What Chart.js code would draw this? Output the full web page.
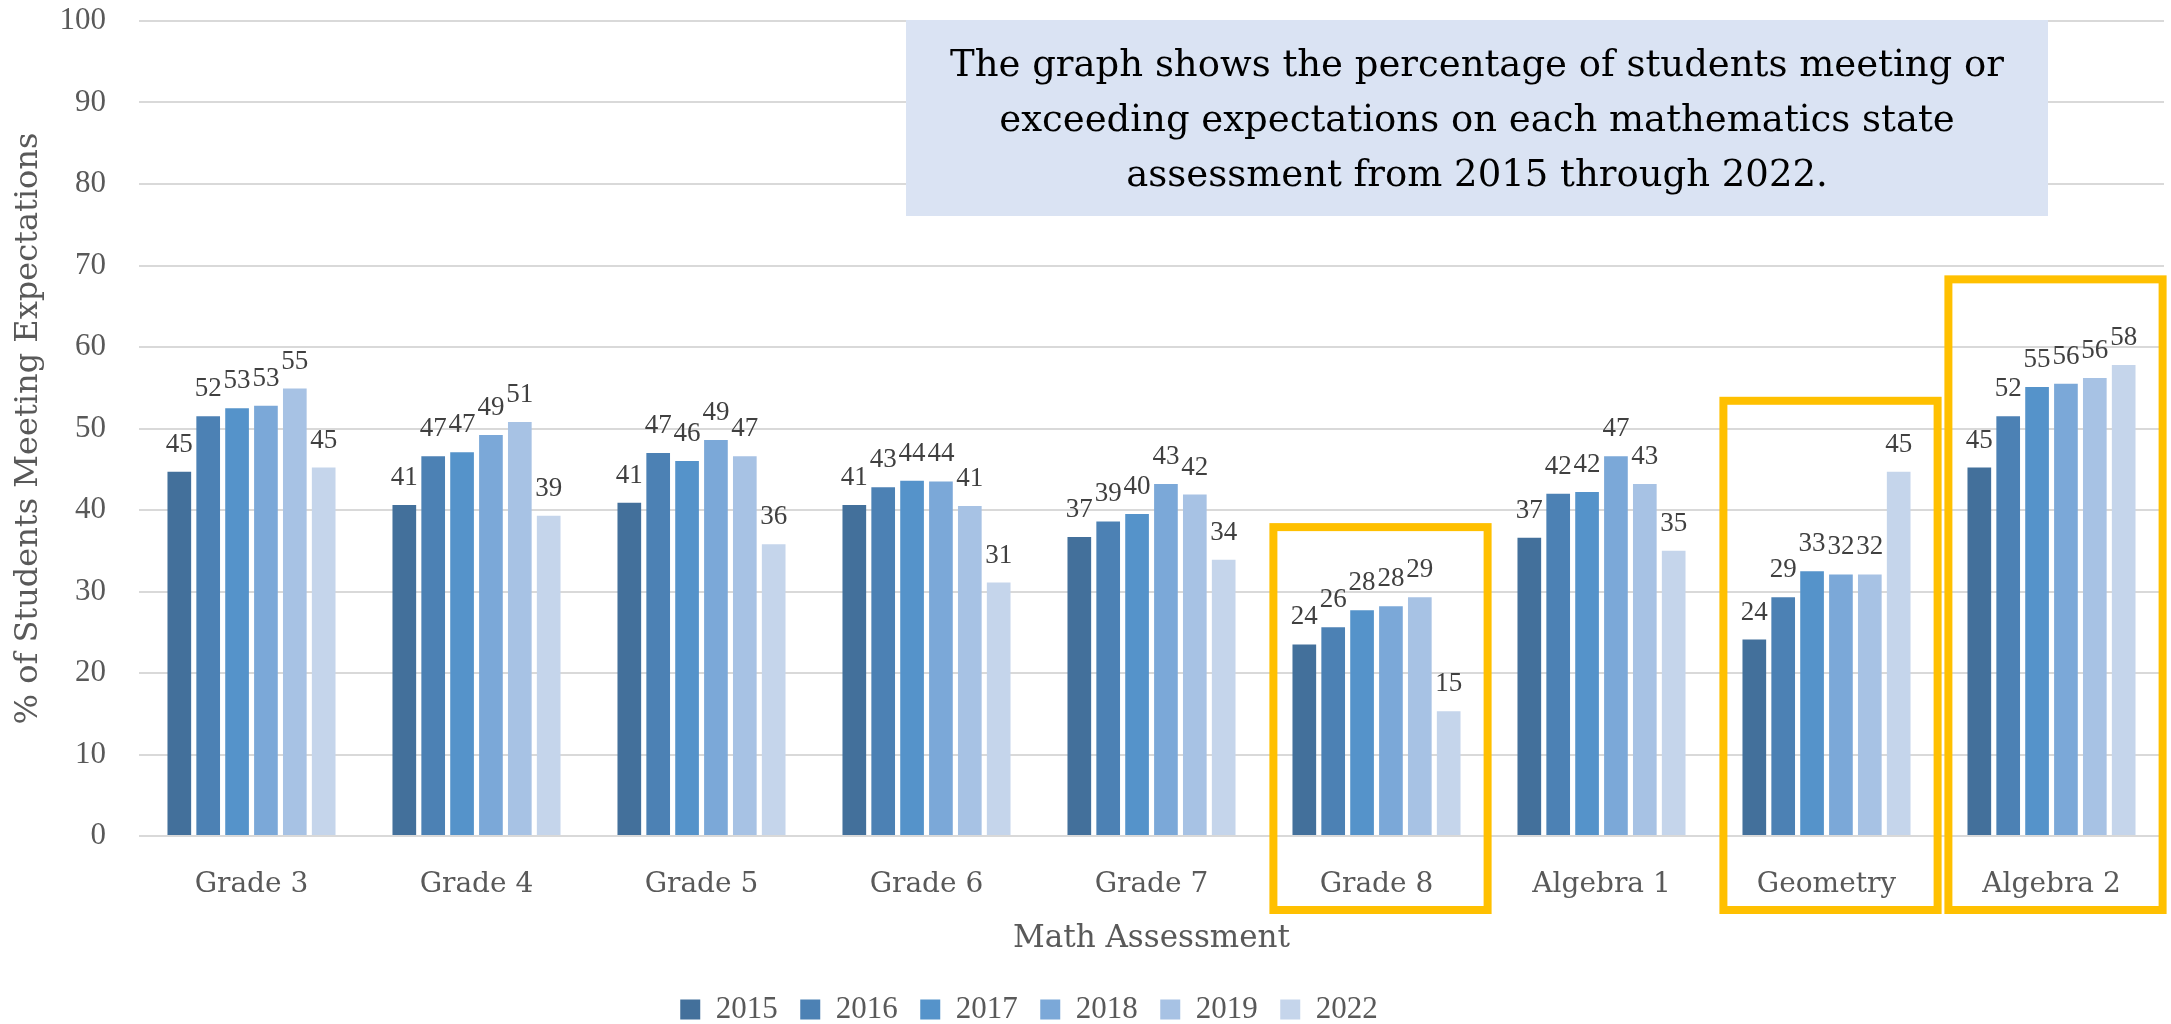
<!DOCTYPE html>
<html>
<head>
<meta charset="utf-8">
<script src="https://cdn.jsdelivr.net/npm/chart.js@4.4.1/dist/chart.umd.min.js"></script>
<style>
  html, body { margin: 0; padding: 0; background: #fff; }
  canvas { display: block; }
</style>
</head>
<body>
<canvas id="myChart" width="2171" height="1024"></canvas>
<script>
const assessments = ["Grade 3", "Grade 4", "Grade 5", "Grade 6", "Grade 7", "Grade 8", "Algebra 1", "Geometry", "Algebra 2"];
const years = ["2015", "2016", "2017", "2018", "2019", "2022"];

const values2015 = [44.7, 40.6, 40.9, 40.6, 36.7, 23.5, 36.6, 24.1, 45.2];
const values2016 = [51.5, 46.6, 47.0, 42.8, 38.6, 25.6, 42.0, 29.3, 51.5];
const values2017 = [52.5, 47.1, 46.0, 43.6, 39.5, 27.7, 42.2, 32.5, 55.1];
const values2018 = [52.8, 49.2, 48.6, 43.5, 43.2, 28.2, 46.6, 32.1, 55.5];
const values2019 = [54.9, 50.8, 46.6, 40.5, 41.9, 29.3, 43.2, 32.1, 56.2];
const values2022 = [45.2, 39.3, 35.8, 31.1, 33.9, 15.3, 35.0, 44.7, 57.8];

const yearColors = ["#43709B", "#4C81B4", "#5593CA", "#7BA8D8", "#A7C2E4", "#C5D5EB"];

// assessments boxed in yellow, and the value the box top sits at
const highlighted = ["Grade 8", "Geometry", "Algebra 2"];
const highlightTops = [37.9, 53.4, 68.3];

const noteLines = [
  "The graph shows the percentage of students meeting or",
  "exceeding expectations on each mathematics state",
  "assessment from 2015 through 2022."
];

const serif = "'DejaVu Serif', serif";
const numFont = "'Liberation Serif', serif";

const series = [values2015, values2016, values2017, values2018, values2019, values2022];

// value labels above every bar
const barLabels = {
  id: "barLabels",
  afterDatasetsDraw(chart) {
    const ctx = chart.ctx;
    ctx.save();
    ctx.font = "27px " + numFont;
    ctx.fillStyle = "#404040";
    ctx.textAlign = "center";
    ctx.textBaseline = "alphabetic";
    chart.data.datasets.forEach((ds, i) => {
      chart.getDatasetMeta(i).data.forEach((bar, j) => {
        ctx.fillText(Math.round(ds.data[j]), bar.x, bar.y - 20);
      });
    });
    ctx.restore();
  }
};

// blue note box in the top right
const noteBox = {
  id: "noteBox",
  afterDatasetsDraw(chart) {
    const ctx = chart.ctx;
    const x = 906, y = 20, w = 1142, h = 196;
    ctx.save();
    ctx.fillStyle = "#DAE3F3";
    ctx.fillRect(x, y, w, h);
    ctx.fillStyle = "#000";
    ctx.font = "37px " + serif;
    ctx.textAlign = "center";
    ctx.textBaseline = "middle";
    noteLines.forEach((line, i) => ctx.fillText(line, x + w / 2, 66 + i * 55));
    ctx.restore();
  }
};

// yellow frames round some categories
const frames = {
  id: "frames",
  afterDraw(chart) {
    const ctx = chart.ctx;
    const xs = chart.scales.x, ys = chart.scales.y;
    const cw = xs.width / assessments.length;
    ctx.save();
    ctx.strokeStyle = "#FFC000";
    ctx.lineWidth = 8;
    highlighted.forEach((name, i) => {
      const cx = xs.getPixelForValue(assessments.indexOf(name)) + 4;
      const top = ys.getPixelForValue(highlightTops[i]);
      const bottom = chart.chartArea.bottom + 74;
      ctx.strokeRect(cx - cw * 0.476, top, cw * 0.952, bottom - top);
    });
    ctx.restore();
  }
};

const legendShift = {
  id: "legendShift",
  afterLayout(chart) {
    const l = chart.legend;
    l.left -= 53; l.right -= 53;
    l.top += 11; l.bottom += 11;
  }
};

new Chart(document.getElementById("myChart").getContext("2d"), {
  type: "bar",
  data: {
    labels: assessments,
    datasets: years.map((yr, i) => ({
      label: yr,
      data: series[i],
      backgroundColor: yearColors[i],
      borderWidth: 0,
      categoryPercentage: 0.77,
      barPercentage: 0.82
    }))
  },
  options: {
    responsive: false,
    animation: false,
    layout: { padding: { left: 0, right: 7, top: 21, bottom: 0 } },
    plugins: {
      legend: {
        position: "bottom",
        labels: {
          boxWidth: 20,
          boxHeight: 20,
          padding: 22.5,
          color: "#595959",
          font: { family: numFont, size: 31 }
        }
      },
      tooltip: { enabled: false }
    },
    scales: {
      x: {
        grid: { display: false },
        border: { display: false },
        ticks: { color: "#595959", padding: 24, font: { family: serif, size: 28 } },
        title: {
          display: true,
          text: "Math Assessment",
          color: "#595959",
          font: { family: serif, size: 31 },
          padding: { top: 0, bottom: 3 }
        },
        afterFit(s) {
          s.height = s.chart.height - s.chart.legend.height - 836;
          s.paddingLeft = 0; s.paddingRight = 0;
        }
      },
      y: {
        min: 0,
        max: 100,
        grid: { color: "#D9D9D9", lineWidth: 2, drawTicks: false },
        border: { display: false },
        ticks: { stepSize: 10, color: "#595959", padding: 33, font: { family: numFont, size: 31 } },
        title: {
          display: true,
          text: "% of Students Meeting Expectations",
          color: "#595959",
          font: { family: serif, size: 32 },
          padding: { top: 9, bottom: 0 }
        },
        afterFit(s) {
          s.width = 139;
          s.paddingTop = 0; s.paddingBottom = 0;
        }
      }
    }
  },
  plugins: [barLabels, noteBox, frames, legendShift]
});
</script>
</body>
</html>
